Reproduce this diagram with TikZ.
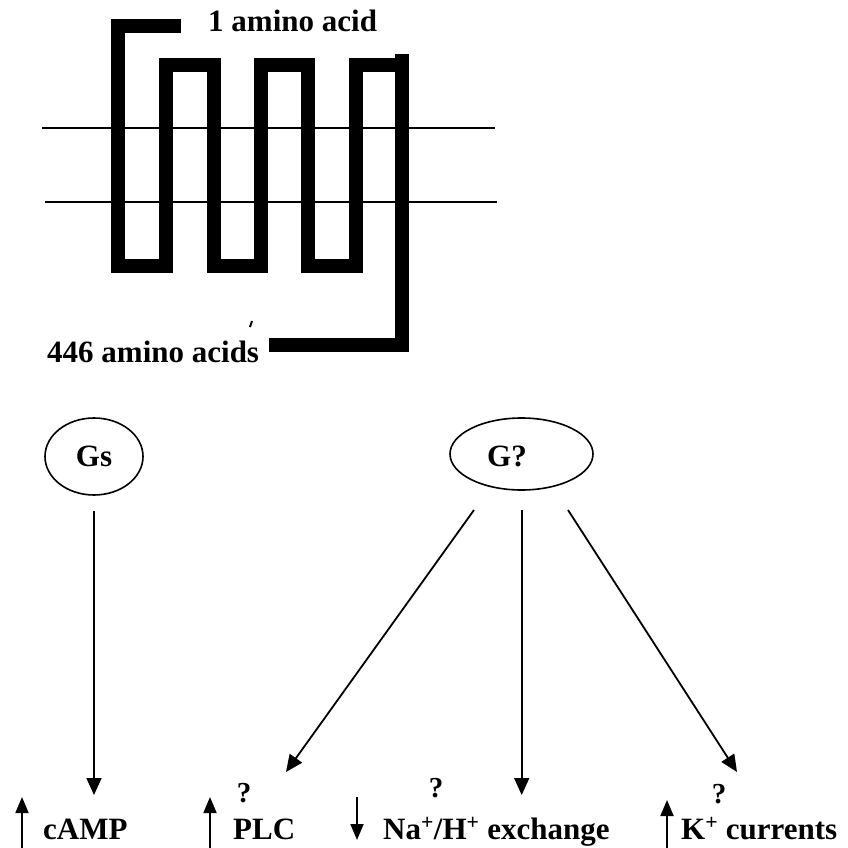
\documentclass[tikz,border=0pt]{standalone}
\usepackage{fontspec}
\setmainfont{Liberation Serif}
\usetikzlibrary{arrows.meta,shapes.geometric}
\begin{document}
\begin{tikzpicture}[x=1pt,y=-1pt,
  chain/.style={line width=14.5pt, line join=miter, line cap=butt},
  membrane/.style={line width=1.2pt},
  gprot/.style={ellipse, draw, line width=1.6pt, inner sep=0pt},
  lbl/.style={font=\fontsize{31}{33}\selectfont\bfseries, inner sep=0pt, anchor=base west},
  qmark/.style={font=\fontsize{29}{31}\selectfont\bfseries, inner sep=0pt, anchor=base},
  sig/.style={line width=1.8pt, -{Triangle[length=17pt,width=15pt]}},
  trend/.style={line width=1.8pt, -{Triangle[length=16pt,width=13pt]}},
]
\useasboundingbox (0,0) rectangle (847,848);

% lipid bilayer
\draw[membrane] (42,128) -- (495,128);
\draw[membrane] (45,202) -- (497,202);

% seven transmembrane receptor chain
\draw[chain] (181,26) -- (118,26) -- (118,266) -- (166,266) -- (166,65)
  -- (214,65) -- (214,266) -- (261,266) -- (261,65) -- (308,65)
  -- (308,266) -- (356,266) -- (356,65) -- (402,65);
\draw[chain] (402,54) -- (402,345) -- (269,345);
\draw[line width=2pt] (250,327) -- (252,321);

\node[lbl] (nterm) at (208,31.7) {1 amino acid};
\node[lbl] (cterm) at (47,362.7) {446 amino acids};

% G proteins
\node[gprot, minimum width=98pt, minimum height=77pt,
      font=\fontsize{31}{33}\selectfont\bfseries] (gs) at (94,456.5) {Gs};
\node[gprot, minimum width=143pt, minimum height=72pt] (gq) at (521.5,454) {};
\node[font=\fontsize{31}{33}\selectfont\bfseries, inner sep=0pt] (gqtext) at (507,456) {G?};

% signalling arrows
\coordinate (gsout) at (94,511);
\coordinate (camptip) at (94,795);
\coordinate (gqa) at (474,510);
\coordinate (plctip) at (286,772);
\coordinate (gqb) at (521.7,510);
\coordinate (natip) at (521.7,795);
\coordinate (gqc) at (568,510);
\coordinate (ktip) at (737,772);
\draw[sig] (gsout) -- (camptip);
\draw[sig] (gqa) -- (plctip);
\draw[sig] (gqb) -- (natip);
\draw[sig] (gqc) -- (ktip);

% effects
\coordinate (campbase) at (22,848);
\coordinate (campup) at (22,797);
\coordinate (plcbase) at (210,848);
\coordinate (plcup) at (210,797);
\coordinate (natop) at (357,797);
\coordinate (nadown) at (357,840);
\coordinate (kbase) at (667,848);
\coordinate (kup) at (667,800);
\draw[trend] (campbase) -- (campup);
\draw[trend] (plcbase) -- (plcup);
\draw[trend] (natop) -- (nadown);
\draw[trend] (kbase) -- (kup);

\node[lbl] (camp) at (43,839) {cAMP};
\node[lbl] (plc) at (233,839) {PLC};
\node[lbl] (nah) at (383,839) {Na\textsuperscript{+}/H\textsuperscript{+} exchange};
\node[lbl] (kcur) at (681,839) {K\textsuperscript{+} currents};

\node[qmark] (q1) at (244,802) {?};
\node[qmark] (q2) at (436,797) {?};
\node[qmark] (q3) at (719,803) {?};
\end{tikzpicture}
\end{document}
